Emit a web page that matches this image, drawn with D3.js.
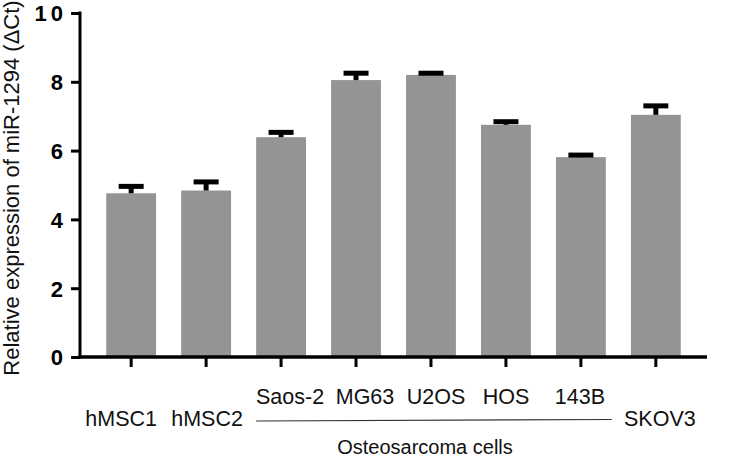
<!DOCTYPE html>
<html>
<head>
<meta charset="utf-8">
<script src="https://cdn.jsdelivr.net/npm/d3@7"></script>
<style>
  html, body { margin: 0; padding: 0; background: #fff; }
  svg { display: block; }
</style>
</head>
<body>
<script>
// ---- data ----
const categories = ["hMSC1", "hMSC2", "Saos-2", "MG63", "U2OS", "HOS", "143B", "SKOV3"];
const values     = [4.76, 4.84, 6.39, 8.05, 8.20, 6.75, 5.81, 7.04];
const errors     = [0.20, 0.25, 0.14, 0.20, 0.05, 0.09, 0.06, 0.26];
const yTicks     = [0, 2, 4, 6, 8, 10];
const groupName  = "Osteosarcoma cells";
const groupMembers = ["Saos-2", "MG63", "U2OS", "HOS", "143B"];
const yTitle = "Relative expression of miR-1294 (\u0394Ct)";

// ---- layout ----
const W = 735, H = 462;
const svg = d3.select("body").append("svg").attr("width", W).attr("height", H);
const font = "'Liberation Sans', Arial, Helvetica, sans-serif";

const x = d3.scaleBand().domain(categories).range([80, 707]).paddingInner(0.335).paddingOuter(0.35);
const y = d3.scaleLinear().domain([0, 10]).range([357, 13]);

// bars
svg.append("g").selectAll("rect").data(categories).join("rect")
  .attr("x", d => x(d)).attr("width", x.bandwidth())
  .attr("y", (d, i) => y(values[i]))
  .attr("height", (d, i) => y(0) - y(values[i]))
  .attr("fill", "#949494");

// error bars (upper only)
const eg = svg.append("g");
categories.forEach((c, i) => {
  const cx = x(c) + x.bandwidth() / 2;
  const top = y(values[i] + errors[i]);
  eg.append("line").attr("x1", cx).attr("x2", cx)
    .attr("y1", y(values[i])).attr("y2", top)
    .attr("stroke", "#000").attr("stroke-width", 5);
  eg.append("line").attr("x1", cx - 12.5).attr("x2", cx + 12.5)
    .attr("y1", top).attr("y2", top)
    .attr("stroke", "#000").attr("stroke-width", 5);
});

// y axis
const yAxis = d3.axisLeft(y).tickValues(yTicks).tickSize(9).tickPadding(4).tickFormat(d3.format("d"));
const ya = svg.append("g").attr("transform", "translate(80,0)").call(yAxis);
ya.select(".domain").remove();
ya.append("line").attr("x1", 0).attr("x2", 0).attr("y1", 11.5).attr("y2", 358.5)
  .attr("stroke", "#000").attr("stroke-width", 3);
ya.selectAll(".tick line").attr("stroke", "#000").attr("stroke-width", 3);
ya.selectAll(".tick text").attr("fill", "#000")
  .style("font-family", font).style("font-size", "22px").style("font-weight", "bold")
  .style("letter-spacing", "4px").attr("dy", "0.36em");

// x axis
const xAxis = d3.axisBottom(x).tickSize(10).tickFormat("");
const xa = svg.append("g").attr("transform", "translate(0,357)").call(xAxis);
xa.select(".domain").remove();
xa.append("line").attr("x1", 78.5).attr("x2", 707).attr("y1", 0).attr("y2", 0)
  .attr("stroke", "#000").attr("stroke-width", 3.5);
xa.selectAll(".tick line").attr("stroke", "#000").attr("stroke-width", 3);

// category labels
const labelDx = { "hMSC1": -10, "hMSC2": 1, "Saos-2": 9, "MG63": 9, "U2OS": 5, "HOS": 0, "143B": -1, "SKOV3": 4 };
const lbl = svg.append("g").style("font-family", font).style("font-size", "21.5px").attr("fill", "#111");
categories.forEach(c => {
  const inGroup = groupMembers.includes(c);
  lbl.append("text")
    .attr("x", x(c) + x.bandwidth() / 2 + labelDx[c])
    .attr("y", inGroup ? 404 : 426)
    .attr("text-anchor", "middle")
    .text(c);
});

// group bracket line and name
const gx1 = x(groupMembers[0]);
const gx2 = x(groupMembers[groupMembers.length - 1]) + x.bandwidth() + 6;
svg.append("line").attr("x1", gx1).attr("x2", gx2).attr("y1", 421).attr("y2", 419.5)
  .attr("stroke", "#333").attr("stroke-width", 1.2);
svg.append("text").attr("x", (gx1 + gx2) / 2 - 9).attr("y", 454)
  .attr("text-anchor", "middle")
  .style("font-family", font).style("font-size", "20px").attr("fill", "#111")
  .text(groupName);

// y title
svg.append("text")
  .attr("transform", "translate(19,188) rotate(-90)")
  .attr("text-anchor", "middle")
  .style("font-family", font).style("font-size", "22px").attr("fill", "#111")
  .text(yTitle);
</script>
</body>
</html>
